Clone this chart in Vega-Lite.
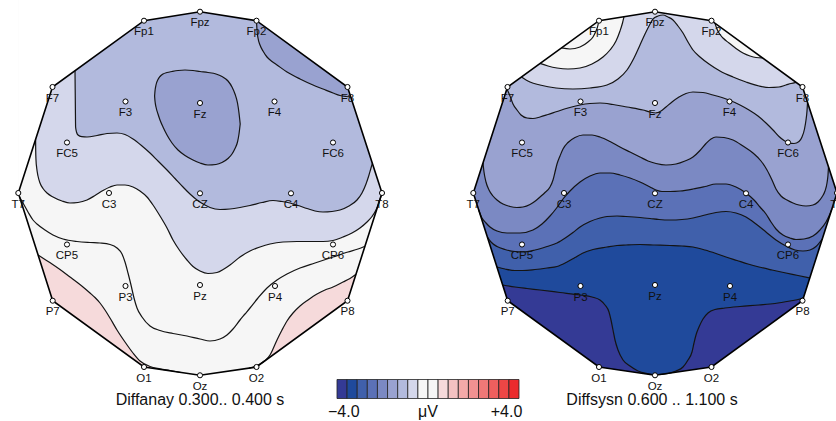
{
"$schema":"https://vega.github.io/schema/vega-lite/v6.json",
"width":836,"height":421,"autosize":{"type":"none"},"padding":0,"background":"white",
"config":{"view":{"stroke":null},"axis":{"disable":true},"legend":{"disable":true}},
"datasets":{
"contours":[
{"c":"L_up","x":18.3,"y":193},{"c":"L_up","x":52.5,"y":87},{"c":"L_up","x":144,"y":20.7},{"c":"L_up","x":200,"y":11.7},{"c":"L_up","x":256.5,"y":20.7},{"c":"L_up","x":347.5,"y":87},{"c":"L_up","x":382,"y":193},
{"c":"L_lo","x":18.3,"y":193},{"c":"L_lo","x":52.7,"y":300.7},{"c":"L_lo","x":144,"y":367},{"c":"L_lo","x":200,"y":375.3},{"c":"L_lo","x":256.5,"y":367},{"c":"L_lo","x":347.5,"y":300.7},{"c":"L_lo","x":382,"y":193},
{"c":"R_up","x":468,"y":193,"ext":1},{"c":"R_up","x":473.3,"y":193},{"c":"R_up","x":507.5,"y":87},{"c":"R_up","x":599,"y":20.7},{"c":"R_up","x":655,"y":11.7},{"c":"R_up","x":711.5,"y":20.7},{"c":"R_up","x":802.5,"y":87},{"c":"R_up","x":837,"y":193},
{"c":"R_lo","x":468,"y":193,"ext":1},{"c":"R_lo","x":473.3,"y":193},{"c":"R_lo","x":507.7,"y":300.7},{"c":"R_lo","x":599,"y":367},{"c":"R_lo","x":655,"y":375.3},{"c":"R_lo","x":711.5,"y":367},{"c":"R_lo","x":802.5,"y":300.7},{"c":"R_lo","x":837,"y":193},
{"c":"LB","x":35.6,"y":139.5},{"c":"LB","x":35.7,"y":150},{"c":"LB","x":36,"y":160},{"c":"LB","x":36.7,"y":168},{"c":"LB","x":38,"y":176},{"c":"LB","x":40,"y":183},{"c":"LB","x":43,"y":188.5},{"c":"LB","x":47,"y":193},{"c":"LB","x":53,"y":197},{"c":"LB","x":62,"y":201},{"c":"LB","x":70,"y":203},{"c":"LB","x":78,"y":202.5},{"c":"LB","x":87,"y":200},{"c":"LB","x":95,"y":195.5},{"c":"LB","x":103,"y":190.5},{"c":"LB","x":110,"y":187},{"c":"LB","x":117,"y":185},{"c":"LB","x":125,"y":185},{"c":"LB","x":133,"y":187},{"c":"LB","x":140,"y":191},{"c":"LB","x":147,"y":197},{"c":"LB","x":153,"y":205},{"c":"LB","x":160,"y":216},{"c":"LB","x":167,"y":228},{"c":"LB","x":173,"y":240},{"c":"LB","x":180,"y":251},{"c":"LB","x":187,"y":260},{"c":"LB","x":193,"y":266.5},{"c":"LB","x":200,"y":271},{"c":"LB","x":208,"y":273.5},{"c":"LB","x":217,"y":272.5},{"c":"LB","x":224,"y":269},{"c":"LB","x":230,"y":265},{"c":"LB","x":240,"y":257},{"c":"LB","x":250,"y":251},{"c":"LB","x":260,"y":247},{"c":"LB","x":270,"y":244},{"c":"LB","x":283,"y":242},{"c":"LB","x":297,"y":241.5},{"c":"LB","x":310,"y":241.5},{"c":"LB","x":323,"y":241.5},{"c":"LB","x":333,"y":240.5},{"c":"LB","x":343,"y":237},{"c":"LB","x":352,"y":233},{"c":"LB","x":360,"y":228},{"c":"LB","x":367,"y":222},{"c":"LB","x":372,"y":216.5},{"c":"LB","x":376,"y":210},{"c":"LB","x":379,"y":202.4},{"c":"LB","x":382,"y":193},
{"c":"LA","x":75,"y":70.7},{"c":"LA","x":75.2,"y":90},{"c":"LA","x":75.4,"y":110},{"c":"LA","x":75.6,"y":127},{"c":"LA","x":76.5,"y":132},{"c":"LA","x":78,"y":135},{"c":"LA","x":81.7,"y":136.7},{"c":"LA","x":87,"y":137},{"c":"LA","x":97,"y":135.5},{"c":"LA","x":107,"y":133.5},{"c":"LA","x":117,"y":133},{"c":"LA","x":125,"y":134.5},{"c":"LA","x":133,"y":139},{"c":"LA","x":142,"y":146},{"c":"LA","x":150,"y":153},{"c":"LA","x":158,"y":161},{"c":"LA","x":167,"y":170},{"c":"LA","x":175,"y":178.5},{"c":"LA","x":183,"y":187},{"c":"LA","x":190,"y":194},{"c":"LA","x":197,"y":200},{"c":"LA","x":204,"y":204.5},{"c":"LA","x":210,"y":207.5},{"c":"LA","x":220,"y":209.5},{"c":"LA","x":230,"y":209},{"c":"LA","x":240,"y":207.5},{"c":"LA","x":250,"y":205.5},{"c":"LA","x":262,"y":202.5},{"c":"LA","x":273,"y":200.5},{"c":"LA","x":282,"y":201.5},{"c":"LA","x":290,"y":203},{"c":"LA","x":298,"y":205.5},{"c":"LA","x":307,"y":208.5},{"c":"LA","x":315,"y":211},{"c":"LA","x":323,"y":212},{"c":"LA","x":332,"y":211.5},{"c":"LA","x":340,"y":210},{"c":"LA","x":349,"y":206},{"c":"LA","x":357,"y":200},{"c":"LA","x":362,"y":193},{"c":"LA","x":366,"y":184},{"c":"LA","x":369,"y":175},{"c":"LA","x":371,"y":168},{"c":"LA","x":372.4,"y":163.5},
{"c":"LStrip","x":256.5,"y":20.7},{"c":"LStrip","x":257,"y":30},{"c":"LStrip","x":258,"y":38},{"c":"LStrip","x":260,"y":45},{"c":"LStrip","x":263,"y":51},{"c":"LStrip","x":267,"y":57},{"c":"LStrip","x":272,"y":61.5},{"c":"LStrip","x":277,"y":65},{"c":"LStrip","x":287,"y":72},{"c":"LStrip","x":300,"y":79},{"c":"LStrip","x":313,"y":85},{"c":"LStrip","x":323,"y":89},{"c":"LStrip","x":333,"y":93},{"c":"LStrip","x":340,"y":95.5},{"c":"LStrip","x":346,"y":96.5},{"c":"LStrip","x":350.8,"y":97},
{"c":"LFzT","x":154.6,"y":96},{"c":"LFzT","x":155,"y":91},{"c":"LFzT","x":156,"y":85},{"c":"LFzT","x":158,"y":79.5},{"c":"LFzT","x":160,"y":76.5},{"c":"LFzT","x":163,"y":74},{"c":"LFzT","x":167,"y":72.5},{"c":"LFzT","x":172,"y":71.5},{"c":"LFzT","x":178,"y":70.5},{"c":"LFzT","x":185,"y":70},{"c":"LFzT","x":193,"y":70.5},{"c":"LFzT","x":200,"y":71.5},{"c":"LFzT","x":208,"y":72.5},{"c":"LFzT","x":216,"y":74},{"c":"LFzT","x":222,"y":76.5},{"c":"LFzT","x":228,"y":81},{"c":"LFzT","x":232,"y":87},{"c":"LFzT","x":235,"y":94},{"c":"LFzT","x":237.5,"y":103},{"c":"LFzT","x":239,"y":113},{"c":"LFzT","x":240.2,"y":124},
{"c":"LFzB","x":154.6,"y":96},{"c":"LFzB","x":155,"y":101},{"c":"LFzB","x":156,"y":107},{"c":"LFzB","x":158,"y":114},{"c":"LFzB","x":160,"y":120},{"c":"LFzB","x":163,"y":127},{"c":"LFzB","x":167,"y":135},{"c":"LFzB","x":172,"y":143},{"c":"LFzB","x":178,"y":150},{"c":"LFzB","x":185,"y":155.5},{"c":"LFzB","x":193,"y":160},{"c":"LFzB","x":200,"y":163},{"c":"LFzB","x":208,"y":165},{"c":"LFzB","x":216,"y":164.5},{"c":"LFzB","x":222,"y":162.5},{"c":"LFzB","x":228,"y":158.5},{"c":"LFzB","x":232,"y":154},{"c":"LFzB","x":235,"y":148.5},{"c":"LFzB","x":237.5,"y":142},{"c":"LFzB","x":239,"y":134},{"c":"LFzB","x":240.2,"y":124},
{"c":"LC","x":19.6,"y":197},{"c":"LC","x":23,"y":203},{"c":"LC","x":28,"y":212},{"c":"LC","x":33,"y":220},{"c":"LC","x":37,"y":224},{"c":"LC","x":45,"y":230},{"c":"LC","x":53,"y":235},{"c":"LC","x":63,"y":239},{"c":"LC","x":77,"y":241.5},{"c":"LC","x":90,"y":242.5},{"c":"LC","x":100,"y":243},{"c":"LC","x":110,"y":244.5},{"c":"LC","x":117,"y":248},{"c":"LC","x":122,"y":254},{"c":"LC","x":125,"y":262},{"c":"LC","x":128,"y":273},{"c":"LC","x":131,"y":285},{"c":"LC","x":134,"y":298},{"c":"LC","x":137,"y":308},{"c":"LC","x":142,"y":317},{"c":"LC","x":150,"y":326},{"c":"LC","x":160,"y":330.5},{"c":"LC","x":173,"y":333.5},{"c":"LC","x":187,"y":336},{"c":"LC","x":200,"y":339},{"c":"LC","x":210,"y":341},{"c":"LC","x":220,"y":339},{"c":"LC","x":227,"y":335},{"c":"LC","x":233,"y":329},{"c":"LC","x":240,"y":320},{"c":"LC","x":245,"y":314},{"c":"LC","x":250,"y":308},{"c":"LC","x":258,"y":298},{"c":"LC","x":267,"y":288},{"c":"LC","x":277,"y":280},{"c":"LC","x":287,"y":274},{"c":"LC","x":300,"y":268},{"c":"LC","x":315,"y":263},{"c":"LC","x":333,"y":257},{"c":"LC","x":348,"y":252},{"c":"LC","x":358,"y":249},{"c":"LC","x":365,"y":246.2},
{"c":"LPinkL","x":38.1,"y":255},{"c":"LPinkL","x":45,"y":259.5},{"c":"LPinkL","x":52,"y":264},{"c":"LPinkL","x":60,"y":269.5},{"c":"LPinkL","x":70,"y":277},{"c":"LPinkL","x":78,"y":283},{"c":"LPinkL","x":83,"y":287},{"c":"LPinkL","x":90,"y":293},{"c":"LPinkL","x":95,"y":297.5},{"c":"LPinkL","x":100,"y":303},{"c":"LPinkL","x":105,"y":310},{"c":"LPinkL","x":110,"y":318},{"c":"LPinkL","x":117,"y":330},{"c":"LPinkL","x":125,"y":342},{"c":"LPinkL","x":133,"y":353},{"c":"LPinkL","x":140,"y":361},{"c":"LPinkL","x":150,"y":366.5},{"c":"LPinkL","x":160,"y":368.8},{"c":"LPinkL","x":170,"y":370.5},{"c":"LPinkL","x":181,"y":372.5},
{"c":"LPinkR","x":249,"y":368.1},{"c":"LPinkR","x":255,"y":366.5},{"c":"LPinkR","x":260,"y":364},{"c":"LPinkR","x":265,"y":360.5},{"c":"LPinkR","x":270,"y":355},{"c":"LPinkR","x":273,"y":349},{"c":"LPinkR","x":277,"y":340},{"c":"LPinkR","x":282,"y":330},{"c":"LPinkR","x":287,"y":321},{"c":"LPinkR","x":293,"y":313},{"c":"LPinkR","x":300,"y":306},{"c":"LPinkR","x":308,"y":300},{"c":"LPinkR","x":317,"y":294},{"c":"LPinkR","x":325,"y":290},{"c":"LPinkR","x":333,"y":287},{"c":"LPinkR","x":343,"y":282},{"c":"LPinkR","x":350,"y":278.5},{"c":"LPinkR","x":356,"y":274.2},
{"c":"R2","x":521.5,"y":76.9},{"c":"R2","x":530,"y":82},{"c":"R2","x":540,"y":85},{"c":"R2","x":556,"y":88},{"c":"R2","x":573,"y":89},{"c":"R2","x":590,"y":88},{"c":"R2","x":607,"y":85},{"c":"R2","x":618,"y":79},{"c":"R2","x":627,"y":70},{"c":"R2","x":634,"y":58},{"c":"R2","x":640,"y":45},{"c":"R2","x":645,"y":34},{"c":"R2","x":649,"y":26},{"c":"R2","x":653,"y":19},{"c":"R2","x":658,"y":16},{"c":"R2","x":663,"y":15},{"c":"R2","x":668,"y":17},{"c":"R2","x":673,"y":20},{"c":"R2","x":678,"y":26},{"c":"R2","x":683,"y":33},{"c":"R2","x":688,"y":42},{"c":"R2","x":693,"y":50},{"c":"R2","x":700,"y":57},{"c":"R2","x":709,"y":64},{"c":"R2","x":720,"y":71},{"c":"R2","x":733,"y":77},{"c":"R2","x":746,"y":82},{"c":"R2","x":759,"y":86},{"c":"R2","x":769,"y":87.5},{"c":"R2","x":779,"y":87},{"c":"R2","x":786,"y":85},{"c":"R2","x":791,"y":83.5},{"c":"R2","x":796,"y":82.3},
{"c":"RCap1","x":540,"y":63.4},{"c":"RCap1","x":548,"y":66},{"c":"RCap1","x":557,"y":68},{"c":"RCap1","x":568,"y":69},{"c":"RCap1","x":580,"y":68},{"c":"RCap1","x":592,"y":64},{"c":"RCap1","x":603,"y":57},{"c":"RCap1","x":610,"y":50},{"c":"RCap1","x":616,"y":41},{"c":"RCap1","x":620,"y":31},{"c":"RCap1","x":622.5,"y":23},{"c":"RCap1","x":624,"y":16.7},
{"c":"RCap1i","x":561.5,"y":47.9},{"c":"RCap1i","x":570,"y":49},{"c":"RCap1i","x":580,"y":47},{"c":"RCap1i","x":588,"y":42},{"c":"RCap1i","x":593,"y":37},{"c":"RCap1i","x":596,"y":31},{"c":"RCap1i","x":598,"y":25},{"c":"RCap1i","x":598.6,"y":21.5},
{"c":"RCap2","x":715,"y":23.3},{"c":"RCap2","x":717,"y":29},{"c":"RCap2","x":719,"y":33},{"c":"RCap2","x":723,"y":38},{"c":"RCap2","x":729,"y":43},{"c":"RCap2","x":736,"y":48.5},{"c":"RCap2","x":743,"y":53},{"c":"RCap2","x":750,"y":56},{"c":"RCap2","x":756,"y":57.5},{"c":"RCap2","x":762.5,"y":57.9},
{"c":"R3","x":507,"y":89},{"c":"R3","x":510,"y":96},{"c":"R3","x":513,"y":104},{"c":"R3","x":517,"y":110},{"c":"R3","x":521,"y":115},{"c":"R3","x":527,"y":118},{"c":"R3","x":533,"y":118.5},{"c":"R3","x":540,"y":117},{"c":"R3","x":548,"y":114.5},{"c":"R3","x":557,"y":111.5},{"c":"R3","x":568,"y":108},{"c":"R3","x":580,"y":105},{"c":"R3","x":590,"y":103.5},{"c":"R3","x":600,"y":103},{"c":"R3","x":613,"y":104.5},{"c":"R3","x":627,"y":107},{"c":"R3","x":643,"y":110},{"c":"R3","x":650,"y":112},{"c":"R3","x":656,"y":113},{"c":"R3","x":661,"y":111},{"c":"R3","x":666,"y":107},{"c":"R3","x":672,"y":102},{"c":"R3","x":679,"y":97},{"c":"R3","x":686,"y":93.5},{"c":"R3","x":693,"y":92},{"c":"R3","x":703,"y":92.5},{"c":"R3","x":713,"y":95},{"c":"R3","x":729,"y":100},{"c":"R3","x":740,"y":105},{"c":"R3","x":749,"y":110},{"c":"R3","x":758,"y":116},{"c":"R3","x":766,"y":123},{"c":"R3","x":773,"y":130},{"c":"R3","x":779,"y":136.5},{"c":"R3","x":784,"y":140.5},{"c":"R3","x":789,"y":143},{"c":"R3","x":794,"y":143.5},{"c":"R3","x":799,"y":141.5},{"c":"R3","x":802,"y":137},{"c":"R3","x":804.5,"y":129},{"c":"R3","x":806,"y":120},{"c":"R3","x":807,"y":111},{"c":"R3","x":807.5,"y":103},
{"c":"R4","x":483,"y":163},{"c":"R4","x":484,"y":172},{"c":"R4","x":486,"y":182},{"c":"R4","x":489,"y":190},{"c":"R4","x":493,"y":196},{"c":"R4","x":497,"y":200},{"c":"R4","x":503,"y":204},{"c":"R4","x":510,"y":206.5},{"c":"R4","x":517,"y":207.5},{"c":"R4","x":523,"y":207},{"c":"R4","x":530,"y":204.5},{"c":"R4","x":536,"y":200.5},{"c":"R4","x":540,"y":197},{"c":"R4","x":545,"y":192.5},{"c":"R4","x":550,"y":187},{"c":"R4","x":553,"y":180},{"c":"R4","x":555,"y":172},{"c":"R4","x":557,"y":164},{"c":"R4","x":560,"y":156},{"c":"R4","x":563,"y":149},{"c":"R4","x":568,"y":142.5},{"c":"R4","x":575,"y":137.5},{"c":"R4","x":583,"y":135},{"c":"R4","x":592,"y":135},{"c":"R4","x":600,"y":137},{"c":"R4","x":610,"y":141.5},{"c":"R4","x":620,"y":147},{"c":"R4","x":630,"y":152},{"c":"R4","x":640,"y":157},{"c":"R4","x":648,"y":161},{"c":"R4","x":656,"y":163.5},{"c":"R4","x":666,"y":165},{"c":"R4","x":676,"y":164},{"c":"R4","x":685,"y":161},{"c":"R4","x":693,"y":157},{"c":"R4","x":700,"y":150.5},{"c":"R4","x":706,"y":143.5},{"c":"R4","x":711,"y":139},{"c":"R4","x":716,"y":137},{"c":"R4","x":724,"y":137.5},{"c":"R4","x":733,"y":140},{"c":"R4","x":743,"y":146},{"c":"R4","x":753,"y":153},{"c":"R4","x":761,"y":161},{"c":"R4","x":767,"y":170},{"c":"R4","x":772,"y":180},{"c":"R4","x":776,"y":189},{"c":"R4","x":781,"y":196},{"c":"R4","x":787,"y":200},{"c":"R4","x":793,"y":203},{"c":"R4","x":799,"y":205},{"c":"R4","x":806,"y":206},{"c":"R4","x":813,"y":205},{"c":"R4","x":818,"y":202},{"c":"R4","x":822,"y":197},{"c":"R4","x":825,"y":191},{"c":"R4","x":827,"y":183},{"c":"R4","x":828,"y":175},{"c":"R4","x":828.5,"y":166.9},
{"c":"R5","x":468,"y":210,"ext":1},{"c":"R5","x":478.7,"y":210},{"c":"R5","x":482,"y":218},{"c":"R5","x":486,"y":223},{"c":"R5","x":490,"y":227},{"c":"R5","x":497,"y":231},{"c":"R5","x":507,"y":233},{"c":"R5","x":520,"y":233},{"c":"R5","x":533,"y":230},{"c":"R5","x":542,"y":224},{"c":"R5","x":550,"y":216},{"c":"R5","x":557,"y":207.5},{"c":"R5","x":563,"y":199},{"c":"R5","x":570,"y":191},{"c":"R5","x":580,"y":182},{"c":"R5","x":590,"y":176},{"c":"R5","x":600,"y":173},{"c":"R5","x":610,"y":173},{"c":"R5","x":620,"y":175},{"c":"R5","x":630,"y":178},{"c":"R5","x":640,"y":182},{"c":"R5","x":650,"y":187},{"c":"R5","x":656,"y":190},{"c":"R5","x":662,"y":191.5},{"c":"R5","x":670,"y":191.5},{"c":"R5","x":680,"y":191},{"c":"R5","x":693,"y":189},{"c":"R5","x":705,"y":186.5},{"c":"R5","x":716,"y":184},{"c":"R5","x":726,"y":184},{"c":"R5","x":736,"y":187},{"c":"R5","x":746,"y":193},{"c":"R5","x":754,"y":200},{"c":"R5","x":760,"y":207},{"c":"R5","x":766,"y":214},{"c":"R5","x":771,"y":222},{"c":"R5","x":776,"y":229},{"c":"R5","x":783,"y":235},{"c":"R5","x":790,"y":238},{"c":"R5","x":796,"y":239.5},{"c":"R5","x":804,"y":239},{"c":"R5","x":813,"y":236},{"c":"R5","x":820,"y":230},{"c":"R5","x":826,"y":222},{"c":"R5","x":829,"y":216},{"c":"R5","x":832,"y":208.6},{"c":"R5","x":840,"y":208.6,"ext":1},
{"c":"R6","x":468,"y":237,"ext":1},{"c":"R6","x":487.4,"y":237},{"c":"R6","x":491,"y":242},{"c":"R6","x":497,"y":246.5},{"c":"R6","x":505,"y":249.5},{"c":"R6","x":515,"y":251.5},{"c":"R6","x":523,"y":252},{"c":"R6","x":535,"y":250},{"c":"R6","x":547,"y":246.5},{"c":"R6","x":557,"y":243},{"c":"R6","x":566,"y":237.5},{"c":"R6","x":573,"y":232.5},{"c":"R6","x":580,"y":227},{"c":"R6","x":590,"y":221.5},{"c":"R6","x":600,"y":218},{"c":"R6","x":607,"y":216.5},{"c":"R6","x":617,"y":216},{"c":"R6","x":626,"y":216.5},{"c":"R6","x":640,"y":217.5},{"c":"R6","x":650,"y":218.5},{"c":"R6","x":659,"y":219.5},{"c":"R6","x":670,"y":220},{"c":"R6","x":682,"y":219.5},{"c":"R6","x":693,"y":218},{"c":"R6","x":705,"y":215},{"c":"R6","x":716,"y":212.5},{"c":"R6","x":726,"y":211.5},{"c":"R6","x":736,"y":213},{"c":"R6","x":746,"y":217},{"c":"R6","x":756,"y":224},{"c":"R6","x":766,"y":232},{"c":"R6","x":776,"y":240},{"c":"R6","x":786,"y":246},{"c":"R6","x":795,"y":250},{"c":"R6","x":803,"y":251},{"c":"R6","x":810,"y":250},{"c":"R6","x":816,"y":246.5},{"c":"R6","x":822.3,"y":239},{"c":"R6","x":840,"y":239,"ext":1},
{"c":"R7","x":468,"y":267,"ext":1},{"c":"R7","x":496.9,"y":267},{"c":"R7","x":505,"y":269},{"c":"R7","x":515,"y":270.5},{"c":"R7","x":523,"y":270.5},{"c":"R7","x":535,"y":269.5},{"c":"R7","x":547,"y":268},{"c":"R7","x":557,"y":266.5},{"c":"R7","x":567,"y":262},{"c":"R7","x":575,"y":257.5},{"c":"R7","x":583,"y":253},{"c":"R7","x":593,"y":249.5},{"c":"R7","x":607,"y":247},{"c":"R7","x":617,"y":245.5},{"c":"R7","x":626,"y":245},{"c":"R7","x":640,"y":244.5},{"c":"R7","x":655,"y":245},{"c":"R7","x":670,"y":245.5},{"c":"R7","x":682,"y":246},{"c":"R7","x":693,"y":247},{"c":"R7","x":705,"y":250},{"c":"R7","x":716,"y":253.5},{"c":"R7","x":726,"y":257},{"c":"R7","x":737,"y":260.5},{"c":"R7","x":748,"y":264},{"c":"R7","x":759,"y":267},{"c":"R7","x":772,"y":270},{"c":"R7","x":786,"y":273},{"c":"R7","x":798,"y":275.5},{"c":"R7","x":809.8,"y":278},{"c":"R7","x":840,"y":278,"ext":1},
{"c":"RNavy","x":502.7,"y":285},{"c":"RNavy","x":515,"y":287},{"c":"RNavy","x":527,"y":288.5},{"c":"RNavy","x":540,"y":290},{"c":"RNavy","x":560,"y":292.5},{"c":"RNavy","x":580,"y":295},{"c":"RNavy","x":592,"y":297},{"c":"RNavy","x":600,"y":300},{"c":"RNavy","x":605,"y":305},{"c":"RNavy","x":609,"y":312},{"c":"RNavy","x":611,"y":320},{"c":"RNavy","x":613,"y":330},{"c":"RNavy","x":615,"y":340},{"c":"RNavy","x":618,"y":350},{"c":"RNavy","x":623,"y":360},{"c":"RNavy","x":630,"y":366},{"c":"RNavy","x":638,"y":371},{"c":"RNavy","x":647,"y":373.5},{"c":"RNavy","x":655,"y":374.5},{"c":"RNavy","x":662,"y":374.3},{"c":"RNavy","x":668,"y":373.5},{"c":"RNavy","x":676,"y":371},{"c":"RNavy","x":683,"y":367},{"c":"RNavy","x":688,"y":360},{"c":"RNavy","x":692,"y":352},{"c":"RNavy","x":694,"y":343},{"c":"RNavy","x":696,"y":335},{"c":"RNavy","x":699,"y":327},{"c":"RNavy","x":703,"y":319},{"c":"RNavy","x":708,"y":313},{"c":"RNavy","x":715,"y":309.5},{"c":"RNavy","x":725,"y":308},{"c":"RNavy","x":740,"y":306.5},{"c":"RNavy","x":759,"y":305},{"c":"RNavy","x":775,"y":303.5},{"c":"RNavy","x":790,"y":301},{"c":"RNavy","x":800,"y":299},{"c":"RNavy","x":803.5,"y":297.5}
],
"electrodes":[
{"name":"Fp1","x":144,"y":20.7},{"name":"Fpz","x":200,"y":11.7},{"name":"Fp2","x":256.5,"y":20.7},{"name":"F7","x":52.5,"y":87},{"name":"F3","x":125.5,"y":101.5},{"name":"Fz","x":200,"y":103},{"name":"F4","x":274.5,"y":101.5},{"name":"F8","x":347.5,"y":87},{"name":"FC5","x":67,"y":142.5},{"name":"FC6","x":333,"y":142.5},{"name":"T7","x":18.3,"y":193},{"name":"C3","x":109,"y":193},{"name":"CZ","x":200,"y":193.3},{"name":"C4","x":291,"y":193.3},{"name":"T8","x":382,"y":193},{"name":"CP5","x":67,"y":244.5},{"name":"CP6","x":333,"y":244.5},{"name":"P7","x":52.7,"y":300.7},{"name":"P3","x":125.5,"y":286},{"name":"Pz","x":200,"y":285},{"name":"P4","x":275,"y":286},{"name":"P8","x":347.5,"y":300.7},{"name":"O1","x":144,"y":367},{"name":"Oz","x":200,"y":375.3},{"name":"O2","x":256.5,"y":367},
{"name":"Fp1","x":599,"y":20.7},{"name":"Fpz","x":655,"y":11.7},{"name":"Fp2","x":711.5,"y":20.7},{"name":"F7","x":507.5,"y":87},{"name":"F3","x":580.5,"y":101.5},{"name":"Fz","x":655,"y":103},{"name":"F4","x":729.5,"y":101.5},{"name":"F8","x":802.5,"y":87},{"name":"FC5","x":522,"y":142.5},{"name":"FC6","x":788,"y":142.5},{"name":"T7","x":473.3,"y":193},{"name":"C3","x":564,"y":193},{"name":"CZ","x":655,"y":193.3},{"name":"C4","x":746,"y":193.3},{"name":"T8","x":837,"y":193},{"name":"CP5","x":522,"y":244.5},{"name":"CP6","x":788,"y":244.5},{"name":"P7","x":507.7,"y":300.7},{"name":"P3","x":580.5,"y":286},{"name":"Pz","x":655,"y":285},{"name":"P4","x":730,"y":286},{"name":"P8","x":802.5,"y":300.7},{"name":"O1","x":599,"y":367},{"name":"Oz","x":655,"y":375.3},{"name":"O2","x":711.5,"y":367}
],
"heads":[{"caption":"Diffanay 0.300.. 0.400 s","cx":200},{"caption":"Diffsysn 0.600 .. 1.100 s","cx":652}],
"colorbar":[
{"level":1,"lo":-4,"hi":-3.556},{"level":2,"lo":-3.556,"hi":-3.111},{"level":3,"lo":-3.111,"hi":-2.667},{"level":4,"lo":-2.667,"hi":-2.222},{"level":5,"lo":-2.222,"hi":-1.778},{"level":6,"lo":-1.778,"hi":-1.333},{"level":7,"lo":-1.333,"hi":-0.889},{"level":8,"lo":-0.889,"hi":-0.444},{"level":9,"lo":-0.444,"hi":0},{"level":10,"lo":0,"hi":0.444},{"level":11,"lo":0.444,"hi":0.889},{"level":12,"lo":0.889,"hi":1.333},{"level":13,"lo":1.333,"hi":1.778},{"level":14,"lo":1.778,"hi":2.222},{"level":15,"lo":2.222,"hi":2.667},{"level":16,"lo":2.667,"hi":3.111},{"level":17,"lo":3.111,"hi":3.556},{"level":18,"lo":3.556,"hi":4}
],
"colorbarLabels":[{"label":"−4.0","v":-3.7},{"label":"μV","v":0},{"label":"+4.0","v":3.45}]
},
"layer":[
{"layer":[
 {"data":{"name":"contours"},
  "transform":[{"lookup":"c","from":{"data":{"values":[
   {"c":"L_lo","aL":9,"aZ":0,"bL":0,"bZ":8},{"c":"R_lo","aL":2,"aZ":0,"bL":0,"bZ":8},{"c":"L_up","aL":0,"aZ":8},{"c":"R_up","aL":0,"aZ":8},
   {"c":"LB","aL":8,"aZ":1},{"c":"LA","aL":7,"aZ":2},{"c":"LStrip","aL":6,"aZ":3},{"c":"LPinkL","bL":11,"bZ":1},{"c":"LPinkR","bL":11,"bZ":1},
   {"c":"R7","aL":3,"aZ":1},{"c":"R6","aL":4,"aZ":2},{"c":"R5","aL":5,"aZ":3},{"c":"R4","aL":6,"aZ":4},{"c":"R3","aL":7,"aZ":5},{"c":"R2","aL":8,"aZ":6},
   {"c":"RCap1","aL":9,"aZ":7},{"c":"RCap2","aL":9,"aZ":7},{"c":"RNavy","bL":1,"bZ":1}
  ]},"key":"c","fields":["aL","aZ","bL","bZ"]}}],
  "layer":[
   {"transform":[{"filter":"datum.aZ === 0"}],"mark":{"type":"area","interpolate":"linear","clip":true},
    "encoding":{"x":{"field":"x","type":"quantitative","scale":{"domain":[0,836],"nice":false,"zero":false},"axis":null},"y":{"field":"y","type":"quantitative","scale":{"domain":[0,421],"reverse":true,"nice":false,"zero":false},"axis":null},"y2":{"datum":0},
    "color":{"field":"aL","type":"ordinal","scale":{"domain":[0,1,2,3,4,5,6,7,8,9,10,11,12,13,14,15,16,17,18],"range":["#ffffff","#343a95","#1f4a9c","#4060ab","#5b71b7","#7b89c3","#99a2d0","#b2badd","#d4d7eb","#f6f6f6","#f6f6f6","#f6dadb","#f4c1c1","#f3a9a8","#f19191","#ef7877","#ee5f5e","#ed4645","#eb2b2d"]},"legend":null},"detail":{"field":"c"}}},
   {"transform":[{"filter":"datum.aZ === 1"}],"mark":{"type":"area","interpolate":"monotone","clip":true},
    "encoding":{"x":{"field":"x","type":"quantitative"},"y":{"field":"y","type":"quantitative"},"y2":{"datum":0},"color":{"field":"aL","type":"ordinal","legend":null},"detail":{"field":"c"}}},
   {"transform":[{"filter":"datum.bZ === 1"}],"mark":{"type":"area","interpolate":"monotone","clip":true},
    "encoding":{"x":{"field":"x","type":"quantitative"},"y":{"field":"y","type":"quantitative"},"y2":{"datum":421},"color":{"field":"bL","type":"ordinal","legend":null},"detail":{"field":"c"}}},
   {"transform":[{"filter":"datum.aZ === 2"}],"mark":{"type":"area","interpolate":"monotone","clip":true},
    "encoding":{"x":{"field":"x","type":"quantitative"},"y":{"field":"y","type":"quantitative"},"y2":{"datum":0},"color":{"field":"aL","type":"ordinal","legend":null},"detail":{"field":"c"}}},
   {"transform":[{"filter":"datum.aZ === 3"}],"mark":{"type":"area","interpolate":"monotone","clip":true},
    "encoding":{"x":{"field":"x","type":"quantitative"},"y":{"field":"y","type":"quantitative"},"y2":{"datum":0},"color":{"field":"aL","type":"ordinal","legend":null},"detail":{"field":"c"}}},
   {"transform":[{"filter":{"field":"c","oneOf":["LFzT","LFzB"]}},{"pivot":"c","value":"y","groupby":["x"]}],"mark":{"type":"area","interpolate":"monotone","clip":true},
    "encoding":{"x":{"field":"x","type":"quantitative"},"y":{"field":"LFzT","type":"quantitative"},"y2":{"field":"LFzB"},"color":{"datum":6,"type":"ordinal","legend":null}}},
   {"transform":[{"filter":"datum.aZ === 4"}],"mark":{"type":"area","interpolate":"monotone","clip":true},
    "encoding":{"x":{"field":"x","type":"quantitative"},"y":{"field":"y","type":"quantitative"},"y2":{"datum":0},"color":{"field":"aL","type":"ordinal","legend":null},"detail":{"field":"c"}}},
   {"transform":[{"filter":"datum.aZ === 5"}],"mark":{"type":"area","interpolate":"monotone","clip":true},
    "encoding":{"x":{"field":"x","type":"quantitative"},"y":{"field":"y","type":"quantitative"},"y2":{"datum":0},"color":{"field":"aL","type":"ordinal","legend":null},"detail":{"field":"c"}}},
   {"transform":[{"filter":"datum.aZ === 6"}],"mark":{"type":"area","interpolate":"monotone","clip":true},
    "encoding":{"x":{"field":"x","type":"quantitative"},"y":{"field":"y","type":"quantitative"},"y2":{"datum":0},"color":{"field":"aL","type":"ordinal","legend":null},"detail":{"field":"c"}}},
   {"transform":[{"filter":"datum.aZ === 7"}],"mark":{"type":"area","interpolate":"monotone","clip":true},
    "encoding":{"x":{"field":"x","type":"quantitative"},"y":{"field":"y","type":"quantitative"},"y2":{"datum":0},"color":{"field":"aL","type":"ordinal","legend":null},"detail":{"field":"c"}}},
   {"transform":[{"filter":"datum.aZ === 8"}],"mark":{"type":"area","interpolate":"linear","clip":true},
    "encoding":{"x":{"field":"x","type":"quantitative"},"y":{"field":"y","type":"quantitative"},"y2":{"datum":0},"color":{"field":"aL","type":"ordinal","legend":null},"detail":{"field":"c"}}},
   {"transform":[{"filter":"datum.bZ === 8"}],"mark":{"type":"area","interpolate":"linear","clip":true},
    "encoding":{"x":{"field":"x","type":"quantitative"},"y":{"field":"y","type":"quantitative"},"y2":{"datum":421},"color":{"field":"bL","type":"ordinal","legend":null},"detail":{"field":"c"}}},
   {"transform":[{"filter":"indexof(['L_up','L_lo','R_up','R_lo'], datum.c) < 0 && !datum.ext"}],"mark":{"type":"line","interpolate":"monotone","color":"#141414","strokeWidth":1.2,"clip":true},
    "encoding":{"x":{"field":"x","type":"quantitative"},"y":{"field":"y","type":"quantitative"},"detail":{"field":"c"}}},
   {"transform":[{"filter":"indexof(['L_up','L_lo','R_up','R_lo'], datum.c) >= 0 && !datum.ext"}],"mark":{"type":"line","interpolate":"linear","color":"#000000","strokeWidth":1.6,"clip":true},
    "encoding":{"x":{"field":"x","type":"quantitative"},"y":{"field":"y","type":"quantitative"},"detail":{"field":"c"}}}
  ]},
 {"data":{"name":"electrodes"},
  "layer":[
   {"mark":{"type":"point","shape":"circle","filled":true,"fill":"#ffffff","stroke":"#000000","strokeWidth":1,"size":26,"opacity":1,"clip":true},
    "encoding":{"x":{"field":"x","type":"quantitative"},"y":{"field":"y","type":"quantitative"}}},
   {"mark":{"type":"text","font":"Liberation Sans","fontSize":11.5,"dy":14.5,"baseline":"alphabetic","align":"center","color":"#111111","clip":true},
    "encoding":{"x":{"field":"x","type":"quantitative"},"y":{"field":"y","type":"quantitative"},"text":{"field":"name"}}}
  ]},
 {"data":{"name":"heads"},"mark":{"type":"text","font":"Liberation Sans","fontSize":16,"baseline":"alphabetic","align":"center","color":"#111111"},
  "encoding":{"x":{"field":"cx","type":"quantitative"},"y":{"datum":405},"text":{"field":"caption"}}}
]},
{"layer":[
 {"data":{"name":"colorbar"},"mark":{"type":"rect","stroke":"#222222","strokeWidth":0.8},
  "encoding":{"x":{"field":"lo","type":"quantitative","scale":{"domain":[-18.813,17.934],"nice":false,"zero":false},"axis":null},"x2":{"field":"hi"},"y":{"datum":379.5,"type":"quantitative","axis":null},"y2":{"datum":398.5},"color":{"field":"level","type":"ordinal","legend":null}}},
 {"data":{"name":"colorbarLabels"},"mark":{"type":"text","font":"Liberation Sans","fontSize":16,"baseline":"alphabetic","align":"center","color":"#111111"},
  "encoding":{"x":{"field":"v","type":"quantitative"},"y":{"datum":416.5},"text":{"field":"label"}}}
]}
],
"resolve":{"scale":{"x":"independent"}}
}
